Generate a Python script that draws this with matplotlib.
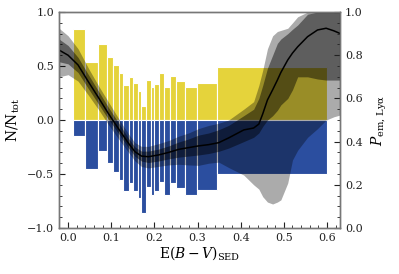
import numpy as np
import matplotlib
matplotlib.use("Agg")
import matplotlib.pyplot as plt
from matplotlib.ticker import AutoMinorLocator, MultipleLocator

plt.rcParams['font.family'] = ['DejaVu Serif']
plt.rcParams['mathtext.fontset'] = 'dejavuserif'

# Bin edges in E(B-V)
bin_edges = [0.011, 0.040, 0.070, 0.090, 0.104, 0.119, 0.127, 0.140, 0.150,
             0.161, 0.169, 0.181, 0.191, 0.200, 0.210, 0.222, 0.236, 0.251,
             0.270, 0.299, 0.345, 0.600]
# Fraction of emitters (positive, yellow) and non-emitters (negative, blue)
frac_emit = [0.84, 0.54, 0.70, 0.586, 0.506, 0.44, 0.324, 0.40, 0.34, 0.27,
             0.13, 0.37, 0.306, 0.33, 0.44, 0.306, 0.407, 0.36, 0.306, 0.34, 0.488]
frac_non = [-0.148, -0.454, -0.287, -0.40, -0.485, -0.556, -0.66, -0.586, -0.655,
            -0.72, -0.86, -0.62, -0.69, -0.66, -0.57, -0.69, -0.586, -0.63,
            -0.69, -0.65, -0.50]

# Emission probability curve with 68% and 95% bands
curve_x = [-0.021, 0.0, 0.023, 0.047, 0.070, 0.093, 0.116, 0.140, 0.155, 0.170,
           0.186, 0.209, 0.233, 0.256, 0.279, 0.302, 0.326, 0.349, 0.372, 0.407,
           0.430, 0.442, 0.451, 0.462, 0.474, 0.485, 0.493, 0.509, 0.520, 0.532,
           0.555, 0.578, 0.598, 0.616, 0.630]
curve_p = [0.824, 0.80, 0.755, 0.677, 0.605, 0.531, 0.462, 0.392, 0.353, 0.333,
           0.330, 0.338, 0.350, 0.364, 0.372, 0.380, 0.386, 0.395, 0.417, 0.454,
           0.463, 0.481, 0.528, 0.593, 0.64, 0.685, 0.72, 0.778, 0.81, 0.839,
           0.886, 0.917, 0.925, 0.913, 0.901]
lo95 = [0.70, 0.71, 0.68, 0.615, 0.55, 0.48, 0.415, 0.35, 0.31, 0.285,
        0.278, 0.285, 0.292, 0.295, 0.292, 0.29, 0.30, 0.305, 0.28, 0.245,
        0.20, 0.18, 0.145, 0.12, 0.111, 0.12, 0.13, 0.208, 0.315, 0.36,
        0.42, 0.46, 0.50, 0.515, 0.523]
lo68 = [0.77, 0.76, 0.72, 0.645, 0.575, 0.505, 0.44, 0.37, 0.332, 0.31,
        0.303, 0.31, 0.32, 0.328, 0.333, 0.338, 0.345, 0.355, 0.37, 0.40,
        0.42, 0.44, 0.47, 0.50, 0.52, 0.545, 0.57, 0.60, 0.64, 0.70,
        0.70, 0.69, 0.685, 0.685, 0.685]
hi68 = [0.875, 0.845, 0.79, 0.71, 0.635, 0.56, 0.49, 0.415, 0.375, 0.356,
        0.356, 0.365, 0.38, 0.398, 0.412, 0.43, 0.44, 0.455, 0.475, 0.52,
        0.55, 0.60, 0.66, 0.74, 0.80, 0.855, 0.875, 0.90, 0.92, 0.94,
        0.99, 1.0, 1.0, 1.0, 1.0]
hi95 = [0.925, 0.89, 0.83, 0.74, 0.66, 0.585, 0.51, 0.435, 0.395, 0.378,
        0.378, 0.39, 0.405, 0.425, 0.44, 0.46, 0.475, 0.485, 0.50, 0.55,
        0.585, 0.66, 0.73, 0.83, 0.89, 0.91, 0.915, 0.925, 0.95, 0.978,
        1.0, 1.0, 1.0, 1.0, 1.0]

fig = plt.figure(figsize=(3.99, 2.74), dpi=100)
ax = fig.add_axes([0.148, 0.168, 0.704, 0.788])

edges = np.array(bin_edges)
widths = np.diff(edges)
ax.bar(edges[:-1], frac_emit, width=widths, align='edge', color='#e5d33b',
       edgecolor='white', linewidth=0.8, zorder=2)
ax.bar(edges[:-1], frac_non, width=widths, align='edge', color='#2b4e9f',
       edgecolor='white', linewidth=0.8, zorder=2)

ax.set_xlim(-0.021, 0.630)
ax.set_ylim(-1.0, 1.0)
ax.set_xlabel(r'E$(B-V)_{\rm SED}$', fontsize=10, labelpad=1)
ax.set_ylabel(r'N/N$_{\rm tot}$', fontsize=10, labelpad=4)
ax.xaxis.set_major_locator(MultipleLocator(0.1))
ax.xaxis.set_minor_locator(AutoMinorLocator())
ax.yaxis.set_major_locator(MultipleLocator(0.5))
ax.yaxis.set_minor_locator(AutoMinorLocator())
ax.tick_params(which='both', direction='in', labelsize=8, colors='#222222')
ax.tick_params(which='major', length=4)
ax.tick_params(which='minor', length=2)

ax2 = ax.twinx()
ax2.fill_between(curve_x, lo95, hi95, color='black', alpha=0.33, linewidth=0)
ax2.fill_between(curve_x, lo68, hi68, color='black', alpha=0.45, linewidth=0)
ax2.plot(curve_x, curve_p, color='black', linewidth=1.1)
ax2.set_ylim(0, 1)
ax2.set_ylabel(r'$P_{\rm em,\,Ly\alpha}$', fontsize=10, labelpad=5)
ax2.yaxis.set_major_locator(MultipleLocator(0.2))
ax2.yaxis.set_minor_locator(AutoMinorLocator())
ax2.tick_params(which='both', direction='in', labelsize=8, colors='#222222')
ax2.tick_params(which='major', length=4)
ax2.tick_params(which='minor', length=2)

for a in (ax, ax2):
    for s in a.spines.values():
        s.set_color('#777777')
        s.set_linewidth(1.0)

fig.savefig('out.png', dpi=100)
